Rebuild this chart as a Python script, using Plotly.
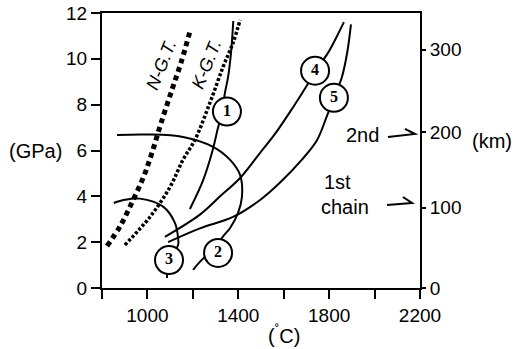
import plotly.graph_objects as go

# ---------------- data ----------------
ngt_T = [822, 880, 937, 985, 1020, 1060, 1108, 1150, 1190]
ngt_P = [1.83, 2.7, 3.84, 4.9, 5.9, 7.2, 8.65, 9.9, 11.3]

kgt_T = [901, 1011, 1099, 1157, 1209, 1275, 1333, 1377, 1408]
kgt_P = [1.88, 3.1, 4.4, 5.6, 6.46, 8.08, 9.65, 10.7, 11.7]

c1_T = [1187, 1245, 1284, 1311, 1330, 1341, 1355, 1368, 1378]
c1_P = [3.45, 4.7, 5.9, 7.0, 7.7, 8.5, 9.2, 10.26, 11.65]

c2_T = [1201, 1254, 1311, 1328, 1364, 1399, 1416, 1408, 1364, 1289, 1157, 1000, 866]
c2_P = [0.79, 1.35, 1.6, 2.18, 2.62, 3.28, 3.97, 4.93, 5.59, 6.16, 6.59, 6.7, 6.68]

c3_T = [1086, 1095, 1135, 1135, 1121, 1069, 967, 900, 852]
c3_P = [0.44, 1.2, 1.88, 2.18, 2.84, 3.55, 3.9, 3.85, 3.71]

c4_T = [1077, 1231, 1320, 1408, 1496, 1560, 1642, 1700, 1739, 1795, 1830, 1865]
c4_P = [2.23, 3.2, 4.0, 4.8, 5.9, 6.7, 7.9, 8.8, 9.45, 10.26, 10.9, 11.6]

c5_T = [1091, 1231, 1377, 1496, 1584, 1680, 1747, 1790, 1821, 1856, 1880, 1896]
c5_P = [2.0, 2.6, 3.1, 3.84, 4.6, 5.6, 6.46, 7.5, 8.3, 9.2, 10.3, 11.5]

label_names = ["1", "2", "3", "4", "5"]
label_T = [1350, 1311, 1095, 1738, 1821]
label_P = [7.7, 1.53, 1.22, 9.48, 8.3]

x_ticks = [800, 1000, 1200, 1400, 1600, 1800, 2000, 2200]
x_ticktext = ["", "1000", "", "1400", "", "1800", "", "2200"]
y_ticks = [0, 2, 4, 6, 8, 10, 12]
km_ticktext = ["0", "100", "200", "300"]
km_tick_gpa = [0, 3.5, 6.8, 10.4]

# ---------------- figure ----------------
FONT = "Liberation Sans, Arial, sans-serif"
fig = go.Figure()

fig.add_trace(go.Scatter(x=ngt_T, y=ngt_P, mode="lines", line=dict(color="black", width=5, dash="5px,4px", shape="spline"), showlegend=False))
fig.add_trace(go.Scatter(x=kgt_T, y=kgt_P, mode="lines", line=dict(color="black", width=3.5, dash="3px,2px", shape="spline"), showlegend=False))
for tx, py in [(c1_T, c1_P), (c2_T, c2_P), (c3_T, c3_P), (c4_T, c4_P), (c5_T, c5_P)]:
    fig.add_trace(go.Scatter(x=tx, y=py, mode="lines", line=dict(color="black", width=2, shape="spline"), showlegend=False))

fig.add_trace(go.Scatter(
    x=label_T, y=label_P, mode="markers+text", text=["<b>%s</b>" % s for s in label_names],
    textposition="middle center",
    textfont=dict(family="Liberation Serif, DejaVu Serif, serif", size=16, color="black"),
    marker=dict(symbol="circle", size=28, color="white", line=dict(color="black", width=2)),
    showlegend=False))

# dummy trace for right axis
fig.add_trace(go.Scatter(x=[None], y=[None], yaxis="y2", showlegend=False))

fig.update_layout(
    width=521, height=349,
    margin=dict(l=102, r=101, t=13, b=61, autoexpand=False),
    paper_bgcolor="white", plot_bgcolor="white",
    font=dict(family=FONT, size=20, color="black"),
    xaxis=dict(range=[800, 2200], tickvals=x_ticks, ticktext=x_ticktext,
               ticks="outside", ticklen=9, tickwidth=1.5, tickcolor="black",
               showline=True, linecolor="black", linewidth=2, mirror=True,
               showgrid=False, zeroline=False, tickfont=dict(size=19)),
    yaxis=dict(range=[0, 12], tickvals=y_ticks,
               ticks="outside", ticklen=9, tickwidth=1.5, tickcolor="black",
               showline=True, linecolor="black", linewidth=2, mirror=True,
               showgrid=False, zeroline=False, tickfont=dict(size=19)),
    yaxis2=dict(range=[0, 12], overlaying="y", side="right",
                tickvals=km_tick_gpa, ticktext=km_ticktext,
                ticks="outside", ticklen=5, tickwidth=1.5, tickcolor="black",
                showline=False, showgrid=False, zeroline=False, tickfont=dict(size=19)),
)

ann = [
    dict(text="(GPa)", x=-0.21, y=6, xref="paper", yref="y", showarrow=False, xanchor="center"),
    dict(text="(km)", x=1.226, y=6.4, xref="paper", yref="y", showarrow=False, xanchor="center"),
    dict(text="(<sup>˚</sup>C)", x=1600, y=-0.17, xref="x", yref="paper", showarrow=False, yanchor="middle"),
    dict(text="<i>N-G.T.</i>", x=1060, y=9.74, xref="x", yref="y", showarrow=False, textangle=-68,
         font=dict(size=18, family=FONT), xanchor="center", yanchor="middle"),
    dict(text="<i>K-G.T.</i>", x=1258, y=9.74, xref="x", yref="y", showarrow=False, textangle=-68,
         font=dict(size=18, family=FONT), xanchor="center", yanchor="middle"),
    dict(text="2nd", x=1945, y=6.68, xref="x", yref="y", showarrow=False),
    dict(text="1st", x=1835, y=4.63, xref="x", yref="y", showarrow=False),
    dict(text="chain", x=1870, y=3.54, xref="x", yref="y", showarrow=False),
]
fig.update_layout(annotations=ann)

# harpoon arrows
for (x0, y0, x1, y1, xb, yb) in [(2059, 6.59, 2178, 6.72, 2134, 6.94), (2055, 3.62, 2165, 3.71, 2125, 3.97)]:
    fig.add_shape(type="path", xref="x", yref="y",
                  path=f"M {x0},{y0} L {x1},{y1} L {xb},{yb}",
                  line=dict(color="black", width=2))

fig.write_html("out.html", config={"displayModeBar": False},
               post_script="document.body.style.margin='0';")
